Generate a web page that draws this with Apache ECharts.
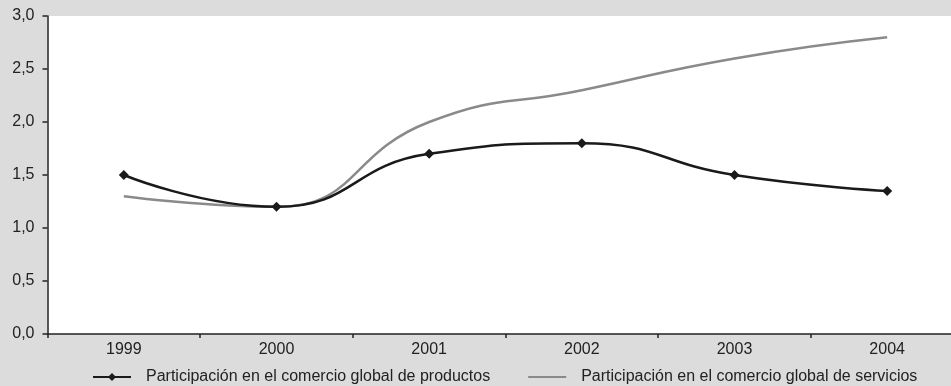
<!DOCTYPE html>
<html>
<head>
<meta charset="utf-8">
<script src="https://cdn.jsdelivr.net/npm/echarts@6/dist/echarts.min.js"></script>
<style>
html,body{margin:0;padding:0;background:#dcdcdc;}
#c{width:951px;height:386px;}
</style>
</head>
<body>
<div id="c"></div>
<script>
const categories = ['1999', '2000', '2001', '2002', '2003', '2004'];
const productos = [1.5, 1.2, 1.7, 1.8, 1.5, 1.35];
const servicios = [1.3, 1.2, 2.0, 2.3, 2.6, 2.8];
const seriesNames = ['Participación en el comercio global de productos', 'Participación en el comercio global de servicios'];

const chart = echarts.init(document.getElementById('c'));
const font = 'Liberation Sans, Arial, Helvetica, sans-serif';
chart.setOption({
  backgroundColor: '#dcdcdc',
  animation: false,
  grid: { left: 47.5, top: 16, width: 916, height: 318, backgroundColor: '#ffffff', show: true, borderWidth: 0,
    outerBoundsMode: 'none', containLabel: false },
  legend: {
    top: 364,
    left: 87,
    itemWidth: 38,
    itemHeight: 10,
    itemGap: 37,
    textStyle: { fontFamily: font, fontSize: 16, color: '#222', padding: [0, 0, 0, 10] },
    data: [
      { name: seriesNames[0] },
      { name: seriesNames[1], itemStyle: { opacity: 0, borderWidth: 0 } }
    ]
  },
  xAxis: {
    type: 'category',
    data: categories,
    boundaryGap: true,
    axisLine: { lineStyle: { color: '#222', width: 1.5 } },
    axisTick: { show: true, length: 4, lineStyle: { color: '#222', width: 1.5 } },
    axisLabel: { fontFamily: font, fontSize: 16, color: '#222', margin: 8 },
    splitLine: { show: false }
  },
  yAxis: {
    type: 'value',
    min: 0, max: 3, interval: 0.5,
    axisLine: { show: true, lineStyle: { color: '#222', width: 1.5 } },
    axisTick: { show: true, length: 5, lineStyle: { color: '#222', width: 1.5 } },
    axisLabel: { fontFamily: font, fontSize: 16, color: '#222', margin: 13,
      formatter: v => v.toFixed(1).replace('.', ',') },
    splitLine: { show: false }
  },
  series: [
    {
      name: seriesNames[0], type: 'line', data: productos, smooth: 0.5,
      symbol: 'diamond', symbolSize: 10,
      lineStyle: { color: '#1a1a1a', width: 2.5 },
      itemStyle: { color: '#1a1a1a' }, z: 3
    },
    {
      name: seriesNames[1], type: 'line', data: servicios, smooth: 0.5,
      symbol: 'none', showSymbol: false,
      lineStyle: { color: '#8a8a8a', width: 2.5 },
      itemStyle: { color: '#8a8a8a' }, z: 2
    }
  ]
});
</script>
</body>
</html>
